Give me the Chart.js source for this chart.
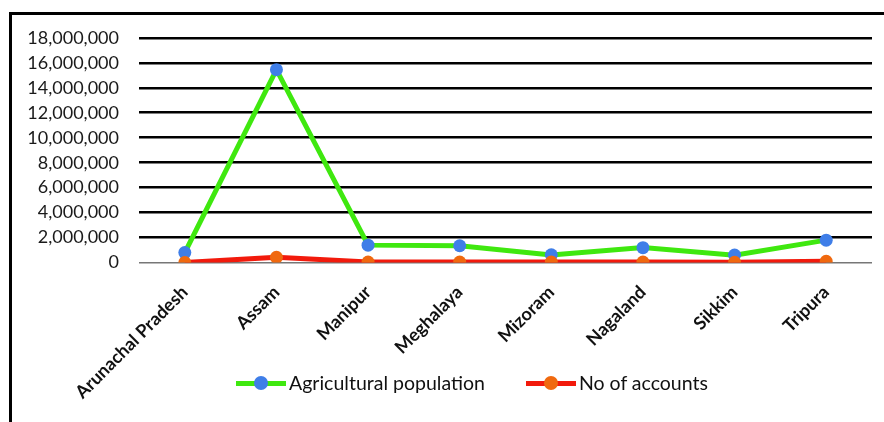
<!DOCTYPE html>
<html>
<head>
<meta charset="utf-8">
<script src="https://cdn.jsdelivr.net/npm/chart.js@4/dist/chart.umd.min.js"></script>
<style>
  html, body { margin: 0; padding: 0; background: #fff; overflow: hidden; }
  #frame {
    position: absolute;
    left: 9px;
    top: 12px;
    width: 875px;
    height: 410px;
    border-top: 3px solid #000;
    border-left: 3px solid #000;
  }
  #chart-box { position: absolute; left: 0; top: -8px; width: 872px; height: 415px; }
  #legend {
    position: absolute;
    left: 236px;
    top: 371px;
    display: flex;
    font-family: Lato, sans-serif;
    font-size: 19.5px;
    line-height: 24px;
    color: #111;
  }
  .item { display: flex; align-items: center; margin-right: 41px; }
  .marker { position: relative; width: 50px; height: 24px; margin-right: 3px; }
  .marker .line { position: absolute; left: 0; right: 0; top: 10px; height: 5px; }
  .marker .dot { position: absolute; left: 18px; top: 5px; width: 14px; height: 14px; border-radius: 50%; }
</style>
</head>
<body>
<div id="frame">
  <div id="chart-box"><canvas id="ne-chart"></canvas></div>
</div>
<div id="legend"></div>
<script>
const states = ["Arunachal Pradesh", "Assam", "Manipur", "Meghalaya", "Mizoram", "Nagaland", "Sikkim", "Tripura"];
const agriPopulation = [800000, 15450000, 1400000, 1350000, 620000, 1200000, 600000, 1800000];
const noOfAccounts = [10000, 420000, 50000, 40000, 40000, 40000, 30000, 100000];
const yTicks = [0, 2000000, 4000000, 6000000, 8000000, 10000000, 12000000, 14000000, 16000000, 18000000];

const chart = new Chart(document.getElementById("ne-chart"), {
  type: "line",
  data: {
    labels: states,
    datasets: [
      {
        label: "Agricultural population",
        data: agriPopulation,
        borderColor: "#3fe80f",
        backgroundColor: "#3f7ee8",
        pointBackgroundColor: "#3f7ee8",
        pointBorderWidth: 0,
        pointRadius: 6.5,
        borderWidth: 5,
        tension: 0,
        order: 1,
      },
      {
        label: "No of accounts",
        data: noOfAccounts,
        borderColor: "#f21a0c",
        backgroundColor: "#f0690f",
        pointBackgroundColor: "#f0690f",
        pointBorderWidth: 0,
        pointRadius: 6.5,
        borderWidth: 5,
        tension: 0,
        order: 0,
      },
    ],
  },
  options: {
    responsive: true,
    maintainAspectRatio: false,
    animation: false,
    layout: { padding: { left: 0, right: 12, top: 0, bottom: 8 } },
    plugins: {
      tooltip: { enabled: false },
      legend: { display: false },
    },
    scales: {
      x: {
        offset: true,
        grid: { display: false },
        border: { display: false },
        ticks: {
          autoSkip: false,
          minRotation: 45,
          maxRotation: 45,
          padding: 11,
          color: "#111",
          font: { family: "Lato", size: 18, weight: "bold" },
        },
      },
      y: {
        min: 0,
        max: 18000000,
        afterBuildTicks: (axis) => {
          axis.ticks = yTicks.map((v) => ({ value: v }));
        },
        afterFit: (axis) => {
          axis.width = 127;
        },
        border: { display: false },
        grid: {
          drawTicks: false,
          color: (ctx) => (ctx.tick.value === 0 ? "#777" : "#000"),
          lineWidth: (ctx) => (ctx.tick.value === 0 ? 1.5 : 2.5),
        },
        ticks: {
          autoSkip: false,
          padding: 20,
          color: "#1a1a1a",
          font: { family: "Lato", size: 18 },
          callback: (v) => v.toLocaleString("en-US"),
        },
      },
    },
  },
});

// html legend: line with a dot, then the series name
const legendBox = document.getElementById("legend");
legendBox.innerHTML = chart.data.datasets
  .map(
    (ds) => `
      <div class="item">
        <span class="marker">
          <span class="line" style="background:${ds.borderColor}"></span>
          <span class="dot" style="background:${ds.pointBackgroundColor}"></span>
        </span>
        <span>${ds.label}</span>
      </div>`
  )
  .join("");
</script>
</body>
</html>
